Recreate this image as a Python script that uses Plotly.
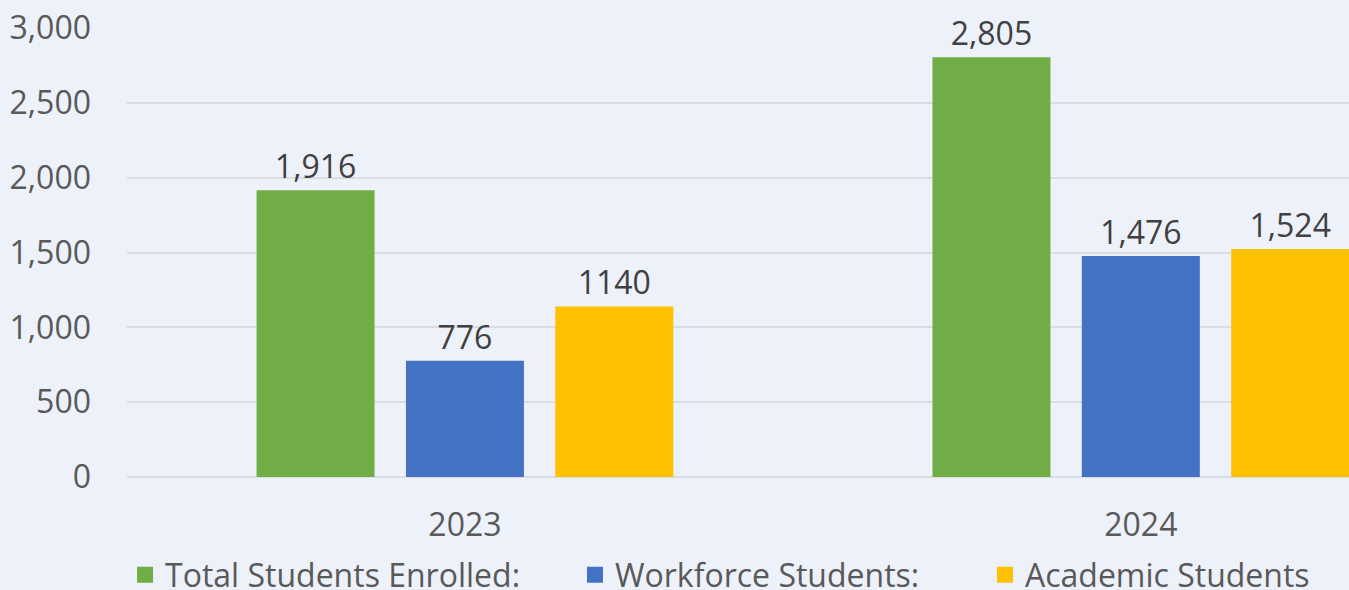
import plotly.graph_objects as go

years = ["2023", "2024"]
series_names = ["Total Students Enrolled:", "Workforce Students:", "Academic Students"]
total_students = [1916, 2805]
workforce_students = [776, 1476]
academic_students = [1140, 1524]
total_labels = ["1,916", "2,805"]
workforce_labels = ["776", "1,476"]
academic_labels = ["1140", "1,524"]
y_ticks = [0, 500, 1000, 1500, 2000, 2500, 3000]
y_tick_labels = ["0", "500", "1,000", "1,500", "2,000", "2,500", "3,000"]

colors = ["#70AD47", "#4472C4", "#FFC000"]
legend_ids = ["legend", "legend2", "legend3"]
legend_x = [-0.0016, 0.3666, 0.7021]
FONT = "Open Sans"
BG = "#EDF1F9"
FS = 32

fig = go.Figure()
for name, vals, labs, col in zip(series_names,
                                 [total_students, workforce_students, academic_students],
                                 [total_labels, workforce_labels, academic_labels],
                                 colors):
    fig.add_trace(go.Bar(
        x=years, y=vals, name=name, marker_color=col, marker_line_width=0,
        text=labs, textposition="outside", cliponaxis=False,
        textfont=dict(family=FONT, size=FS, color="#404040"),
        showlegend=False,
    ))

# legend entries (square swatches), one legend per series
for name, col, lid in zip(series_names, colors, legend_ids):
    fig.add_trace(go.Scatter(
        x=[None], y=[None], mode="markers", name=name,
        marker=dict(symbol="square", size=16, color=col),
        showlegend=True, legend=lid,
    ))

legend_common = dict(orientation="h", xanchor="left", xref="paper",
                     y=-0.218, yanchor="middle",
                     font=dict(family=FONT, size=FS, color="#595959"),
                     bgcolor="rgba(0,0,0,0)")

fig.update_layout(
    width=1349, height=590,
    paper_bgcolor=BG, plot_bgcolor=BG,
    margin=dict(l=127, r=0, t=28, b=113, autoexpand=False),
    barmode="group", bargap=0.337, bargroupgap=0.21,
    font=dict(family=FONT, color="#595959"),
    showlegend=True,
    legend=dict(x=legend_x[0], **legend_common),
    legend2=dict(x=legend_x[1], **legend_common),
    legend3=dict(x=legend_x[2], **legend_common),
)
fig.update_xaxes(type="category", range=[-0.5, 1.308], showgrid=False,
                 showline=False, ticks="", tickfont=dict(family=FONT, size=FS, color="#595959"),
                 ticklabelstandoff=26)
fig.update_yaxes(range=[0, 3000], tickvals=y_ticks, ticktext=y_tick_labels,
                 showgrid=True, gridcolor="#D8DCE3", gridwidth=1.5,
                 zeroline=True, zerolinecolor="#D8DCE3", zerolinewidth=1.5,
                 showline=False, ticks="",
                 tickfont=dict(family=FONT, size=FS, color="#595959"),
                 ticklabelstandoff=35)

fig.write_html("out.html", config={"displayModeBar": False},
               post_script="document.body.style.margin='0';document.body.style.background='%s';document.body.style.overflow='hidden';" % BG)
